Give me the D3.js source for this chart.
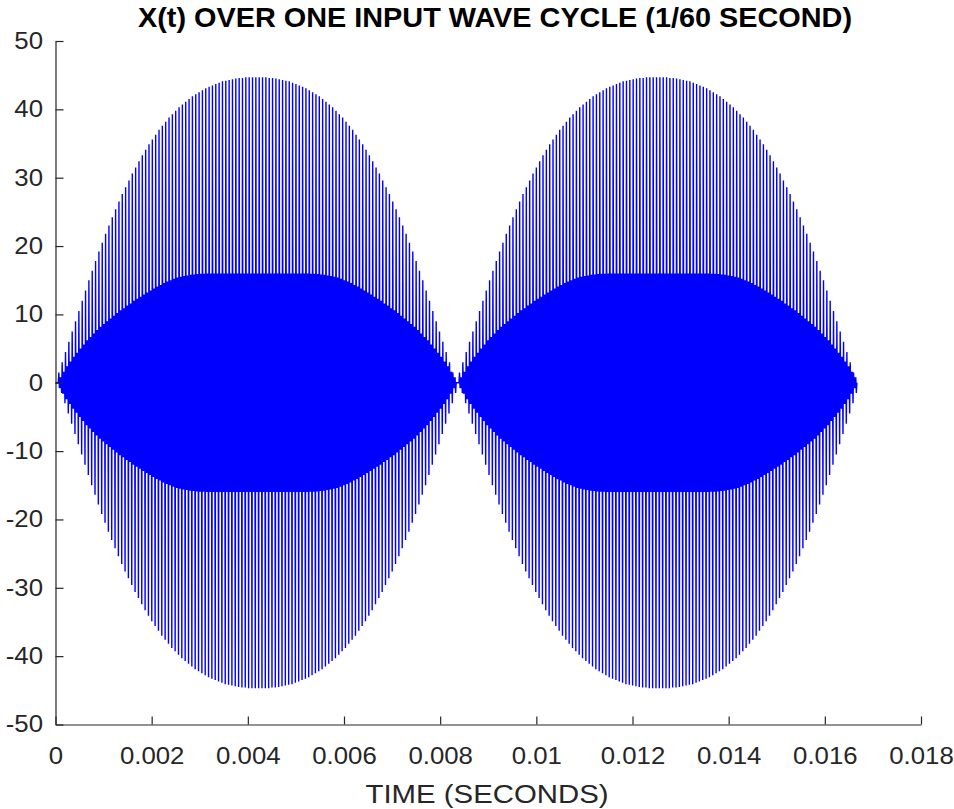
<!DOCTYPE html>
<html><head><meta charset="utf-8">
<script src="https://cdn.jsdelivr.net/npm/d3@7"></script>
<style>body{margin:0;background:#fff} text{font-family:"Liberation Sans",Arial,Helvetica,sans-serif}</style>
</head><body><svg id="c" width="954" height="809"></svg>
<script>
// Peak amplitude of X(t) for each carrier cycle over one half input cycle
const lobeOuter = [0,1.5,3.0,4.5,6.0,7.5,9.0,10.5,12.0,13.5,15.0,16.4,17.8,19.2,20.5,21.8,23.0,24.2,25.4,26.5,
  27.6,28.6,29.6,30.6,31.5,32.4,33.3,34.1,34.9,35.6,36.3,37.0,37.6,38.2,38.8,39.3,39.8,40.3,40.7,41.1,
  41.5,41.9,42.2,42.5,42.8,43.1,43.3,43.5,43.7,43.9,44.1,44.2,44.3,44.4,44.5,44.6,44.6,44.7,44.7,44.7,
  44.7,
  44.7,44.7,44.7,44.6,44.6,44.5,44.4,44.3,44.2,44.1,43.9,43.7,43.5,43.3,43.1,42.8,42.5,42.2,41.9,41.5,
  41.1,40.7,40.3,39.8,39.3,38.8,38.2,37.6,37.0,36.3,35.6,34.9,34.1,33.3,32.4,31.5,30.6,29.6,28.6,27.6,
  26.5,25.4,24.2,23.0,21.8,20.5,19.2,17.8,16.4,15.0,13.5,12.0,10.5,9.0,7.5,6.0,4.5,3.0,1.5,0];
// Inner (dense band) amplitude for each carrier cycle over one half input cycle
const lobeInner = [0,0.8,1.6,2.4,3.1,3.8,4.4,5.0,5.6,6.2,6.7,7.2,7.7,8.2,8.6,9.0,9.4,9.8,10.2,10.6,
  10.9,11.3,11.6,12.0,12.3,12.6,12.9,13.2,13.5,13.8,14.1,14.3,14.6,14.8,15.0,15.2,15.4,15.5,15.6,15.7,
  15.8,15.85,15.9,15.95,15.95,
  16,16,16,16,16,16,16,16,16,16,16,16,16,16,16,16,
  16,16,16,16,16,16,16,16,16,16,16,16,16,16,16,
  15.95,15.95,15.9,15.85,
  15.8,15.7,15.6,15.5,15.4,15.2,15.0,14.8,14.6,14.3,14.1,13.8,13.5,13.2,12.9,12.6,12.3,12.0,11.6,11.3,10.9,
  10.6,10.2,9.8,9.4,9.0,8.6,8.2,7.7,7.2,6.7,6.2,5.6,5.0,4.4,3.8,3.1,2.4,1.6,0.8,0];
// the picture shows two identical half-cycles
const outerPeak = lobeOuter.concat(lobeOuter.slice(1));
const innerPeak = lobeInner.concat(lobeInner.slice(1));
const signalDuration = 1/60;

const xTicks = [0,0.002,0.004,0.006,0.008,0.01,0.012,0.014,0.016,0.018];
const xTickLabels = ["0","0.002","0.004","0.006","0.008","0.01","0.012","0.014","0.016","0.018"];
const yTicks = [-50,-40,-30,-20,-10,0,10,20,30,40,50];
const yTickLabels = ["-50","-40","-30","-20","-10","0","10","20","30","40","50"];
const titleText = "X(t) OVER ONE INPUT WAVE CYCLE (1/60 SECOND)";
const xLabelText = "TIME (SECONDS)";

const svg = d3.select('#c');
const x = d3.scaleLinear().domain([0,0.018]).range([55.5,921]);
const y = d3.scaleLinear().domain([-50,50]).range([724.5,41]);

const T = signalDuration/(outerPeak.length-1);
const pts = [];
outerPeak.forEach((o,k)=>{
  const t = k*T, inn = innerPeak[k];
  pts.push([t,o]);
  if(k<outerPeak.length-1){
    pts.push([t+T*1/6,-inn]);
    pts.push([t+T*2/6,inn]);
    pts.push([t+T*3/6,-inn]);
    pts.push([t+T*4/6,inn]);
    pts.push([t+T*5/6,-o]);
  }
});
svg.append('path').datum(pts)
  .attr('d', d3.line().x(d=>x(d[0])).y(d=>y(d[1])))
  .attr('fill','none').attr('stroke','#0000ff').attr('stroke-width',1.4);

const axCol = '#262626';
const gx = svg.append('g').attr('transform',`translate(0,${y(-50)})`)
  .call(d3.axisBottom(x).tickValues(xTicks).tickFormat((d,i)=>xTickLabels[i]).tickSizeInner(-8).tickSizeOuter(0).tickPadding(23));
const gy = svg.append('g').attr('transform',`translate(${x(0)},0)`)
  .call(d3.axisLeft(y).tickValues(yTicks).tickFormat((d,i)=>yTickLabels[i]).tickSizeInner(-8).tickSizeOuter(0).tickPadding(12.5));
[gx,gy].forEach(g=>{
  g.selectAll('path,line').attr('stroke',axCol).attr('stroke-width',1.2);
  g.selectAll('text').attr('fill',axCol).style('font-size','23px')
    .each(function(){ const L=this.getComputedTextLength(); d3.select(this).attr('textLength',L*1.12).attr('lengthAdjust','spacingAndGlyphs'); });
});

svg.append('text').attr('x',495).attr('y',27).attr('text-anchor','middle')
  .style('font-size','28px').style('font-weight','bold').attr('fill','#000')
  .attr('textLength',714).attr('lengthAdjust','spacingAndGlyphs').text(titleText);
svg.append('text').attr('x',487).attr('y',803).attr('text-anchor','middle')
  .style('font-size','25px').attr('fill',axCol)
  .attr('textLength',243).attr('lengthAdjust','spacingAndGlyphs').text(xLabelText);
</script></body></html>
